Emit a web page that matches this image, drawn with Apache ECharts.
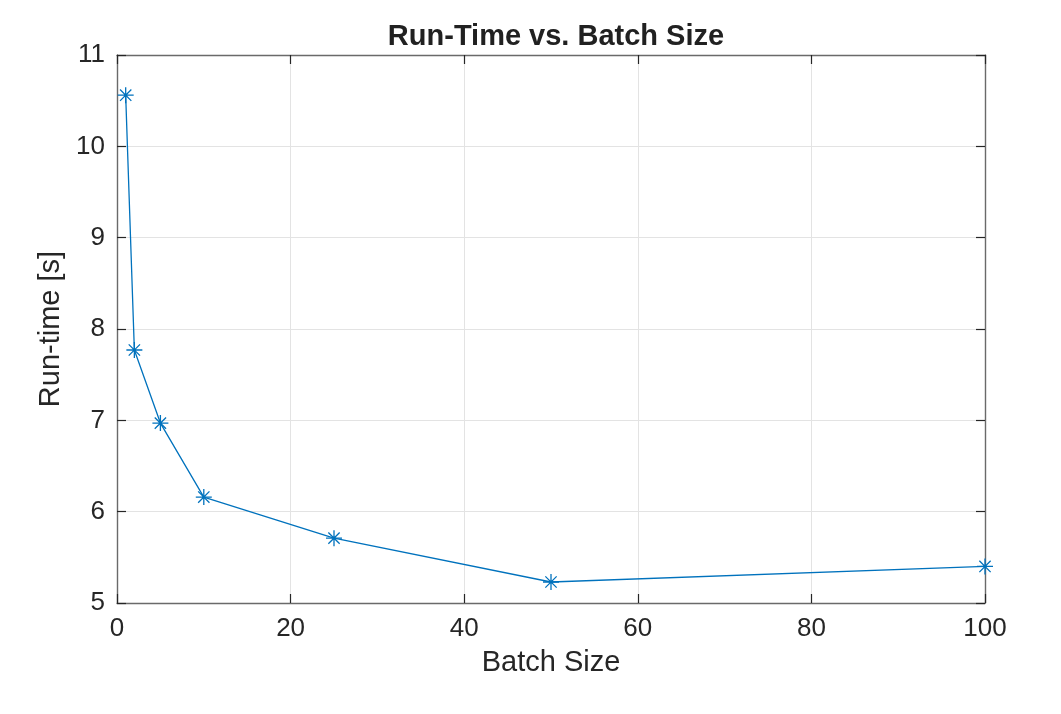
<!DOCTYPE html>
<html>
<head>
<meta charset="utf-8">
<title>Run-Time vs. Batch Size</title>
<script src="https://cdn.jsdelivr.net/npm/echarts@6/dist/echarts.min.js"></script>
<style>
  html, body { margin: 0; padding: 0; background: #fff; }
  #chart { width: 1061px; height: 714px; }
</style>
</head>
<body>
<div id="chart"></div>
<script>
// batch size vs. run-time (seconds)
const batchSize = [1, 2, 5, 10, 25, 50, 100];
const runTime = [10.56, 7.77, 6.97, 6.16, 5.71, 5.23, 5.40];

const xTicks = { min: 0, max: 100, step: 20 };
const yTicks = { min: 5, max: 11, step: 1 };

const FONT = '"Liberation Sans", Arial, Helvetica, sans-serif';
const boxColor = '#6a6a6a';
const tickColor = '#262626';
const gridColor = '#e3e3e3';
const lineColor = '#0072BD';

// 8-arm asterisk, drawn as stroke only
const starPath = 'path://M0,-10L0,10M-10,0L10,0M-7.07,-7.07L7.07,7.07M-7.07,7.07L7.07,-7.07';

const chart = echarts.init(document.getElementById('chart'), null, { renderer: 'canvas' });

const baseAxis = {
    type: 'value',
    axisLine: { show: true, onZero: false, lineStyle: { color: boxColor, width: 1.4 } },
    axisTick: { show: true, inside: true, length: 9, lineStyle: { color: tickColor, width: 1.2 } },
    splitLine: { show: false }
};

chart.setOption({
    backgroundColor: '#fff',
    animation: false,
    title: {
        text: 'Run-Time vs. Batch Size',
        left: 551,
        textAlign: 'center',
        top: 17,
        textStyle: { fontFamily: FONT, fontSize: 29, fontWeight: 'bold', color: '#212121' }
    },
    grid: { left: 117, right: 76, top: 55, bottom: 111 },
    xAxis: [
        Object.assign({}, baseAxis, {
            position: 'bottom',
            min: xTicks.min, max: xTicks.max, interval: xTicks.step,
            name: 'Batch Size',
            nameLocation: 'middle',
            nameGap: 45,
            nameTextStyle: { fontFamily: FONT, fontSize: 29, color: '#262626' },
            axisLabel: { margin: 13, fontFamily: FONT, fontSize: 26, color: '#262626' },
            splitLine: { show: true, lineStyle: { color: gridColor, width: 1 } }
        }),
        Object.assign({}, baseAxis, {
            position: 'top',
            min: xTicks.min, max: xTicks.max, interval: xTicks.step,
            axisLabel: { show: false }
        })
    ],
    yAxis: [
        Object.assign({}, baseAxis, {
            position: 'left',
            min: yTicks.min, max: yTicks.max, interval: yTicks.step,
            name: 'Run-time [s]',
            nameLocation: 'middle',
            nameGap: 46,
            nameTextStyle: { fontFamily: FONT, fontSize: 29, color: '#262626' },
            axisLabel: { margin: 12, fontFamily: FONT, fontSize: 26, color: '#262626' },
            splitLine: { show: true, lineStyle: { color: gridColor, width: 1 } }
        }),
        Object.assign({}, baseAxis, {
            position: 'right',
            min: yTicks.min, max: yTicks.max, interval: yTicks.step,
            axisLabel: { show: false }
        })
    ],
    series: [
        {
            type: 'line',
            data: batchSize.map((b, i) => [b, runTime[i]]),
            symbol: starPath,
            symbolSize: 16,
            showAllSymbol: true,
            lineStyle: { color: lineColor, width: 1.3 },
            itemStyle: { color: 'rgba(0,0,0,0)', borderColor: lineColor, borderWidth: 1.3 },
            emphasis: { disabled: true }
        }
    ]
});

window.addEventListener('resize', () => chart.resize());
</script>
</body>
</html>
